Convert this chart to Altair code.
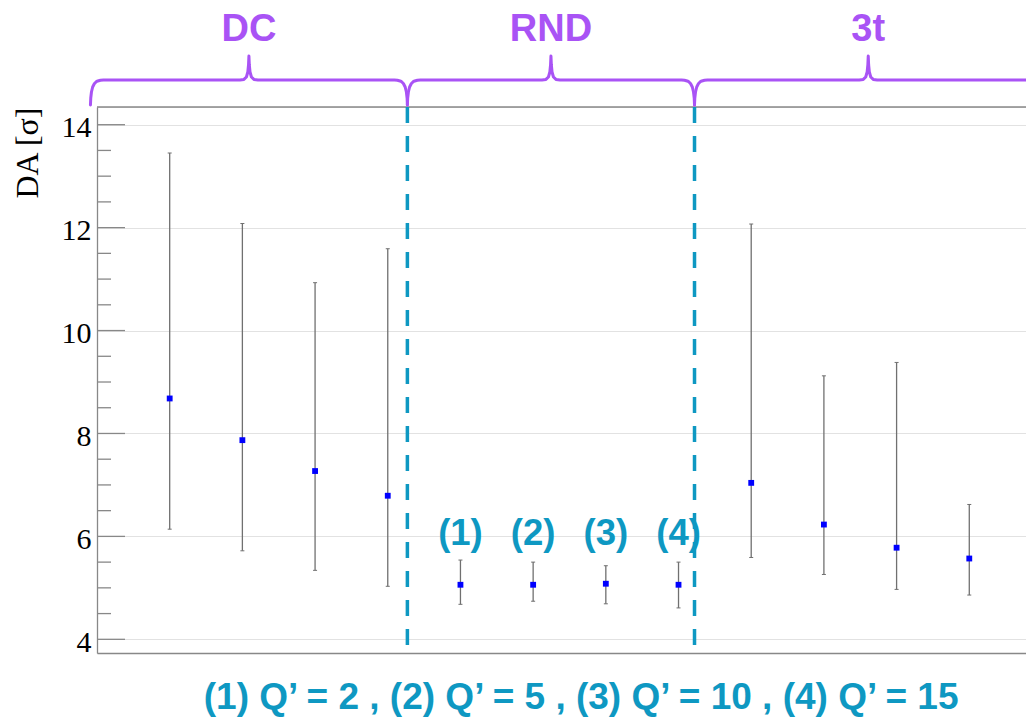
import altair as alt
import pandas as pd

# ---------------- data ----------------
groups = ["DC"] * 4 + ["RND"] * 4 + ["3t"] * 4
xpos = list(range(1, 13))
da = [8.68, 7.87, 7.27, 6.79, 5.06, 5.06, 5.08, 5.06, 7.04, 6.23, 5.78, 5.57]
da_hi = [13.45, 12.08, 10.93, 11.59, 5.54, 5.50, 5.43, 5.50, 12.07, 9.12, 9.38, 6.62]
da_lo = [6.14, 5.72, 5.34, 5.03, 4.68, 4.74, 4.69, 4.61, 5.59, 5.26, 4.97, 4.86]

group_names = ["DC", "RND", "3t"]
group_edges = [-0.09, 4.27, 8.22, 13.0]
separators = [4.27, 8.22]
q_labels = ["(1)", "(2)", "(3)", "(4)"]
q_label_x = [5, 6, 7, 8]
footnote = "(1) Q\u2019 = 2 , (2) Q\u2019 = 5 , (3) Q\u2019 = 10 , (4) Q\u2019 = 15"
y_major = [4, 6, 8, 10, 12, 14]
y_minor = [4.5, 5, 5.5, 6.5, 7, 7.5, 8.5, 9, 9.5, 10.5, 11, 11.5, 12.5, 13, 13.5]

# ---------------- layout / style ----------------
PXX = 72.69               # pixels per x unit
W = 929                   # plot width (chart fits in 1018 px)
H = 546
X0 = 0.0
X1 = W / PXX
Y0, Y1 = 3.734, 14.344
PXY = H / (Y1 - Y0)
PURPLE = "#A953F5"
TEAL = "#0E98C2"
GRAY = "#888888"

xs = alt.Scale(domain=[X0, X1], nice=False, zero=False)
ys = alt.Scale(domain=[Y0, Y1], nice=False, zero=False)

pts = pd.DataFrame({"x": xpos, "da": da, "lo": da_lo, "hi": da_hi, "group": groups})

xaxis = alt.Axis(labels=False, ticks=False, grid=False, title=None, domain=True,
                 domainColor=GRAY, domainWidth=1.3)
yaxis = alt.Axis(
    values=y_major, grid=True, gridColor="#c4c4c4", gridDash=[1, 1], gridWidth=1,
    ticks=False, tickSize=0, domain=True, domainColor=GRAY, domainWidth=1.3,
    labelPadding=6, labelOffset=3,
    labelFont="Liberation Serif", labelFontSize=30, labelColor="#000000",
    title="DA [\u03c3]", titleFont="Liberation Serif", titleFontSize=32,
    titleFontWeight="normal", titleColor="#000000", titleAngle=270,
    titleAlign="right", titleBaseline="middle", titleX=-70, titleY=0,
)


def X(field):
    return alt.X(field, scale=xs, axis=xaxis)


def Y(field):
    return alt.Y(field, scale=ys, axis=yaxis)


# points
points = alt.Chart(pts).mark_square(size=34, color="#0000FF", opacity=1).encode(
    x=X("x:Q"), y=Y("da:Q"),
)

# error bars
ebar = alt.Chart(pts).mark_rule(color="#707070", strokeWidth=1.3).encode(
    x=X("x:Q"), y=Y("lo:Q"), y2="hi:Q",
)
cap_half = 2.0 / PXX
caps_lo = alt.Chart(pts).transform_calculate(
    xl=f"datum.x - {cap_half}", xr=f"datum.x + {cap_half}"
).mark_rule(color="#707070", strokeWidth=1).encode(
    x=X("xl:Q"), x2="xr:Q", y=Y("lo:Q"),
)
caps_hi = alt.Chart(pts).transform_calculate(
    xl=f"datum.x - {cap_half}", xr=f"datum.x + {cap_half}"
).mark_rule(color="#707070", strokeWidth=1).encode(
    x=X("xl:Q"), x2="xr:Q", y=Y("hi:Q"),
)

# inward ticks on the y axis (ROOT style)
ticks_df = pd.DataFrame({
    "y": y_major + y_minor,
    "x0": [0.0] * (len(y_major) + len(y_minor)),
    "x1": [28 / PXX] * len(y_major) + [14 / PXX] * len(y_minor),
})
ticks = alt.Chart(ticks_df).mark_rule(color=GRAY, strokeWidth=1.3).encode(
    x=X("x0:Q"), x2="x1:Q", y=Y("y:Q"),
)

# top frame line
top_df = pd.DataFrame({"x0": [X0], "x1": [X1], "y": [Y1]})
topline = alt.Chart(top_df).mark_rule(color=GRAY, strokeWidth=1.3).encode(
    x=X("x0:Q"), x2="x1:Q", y=Y("y:Q"),
)

# dashed separators
sep_df = pd.DataFrame({"x": separators, "top": [Y1] * len(separators),
                       "bot": [Y0 + 5 / PXY] * len(separators)})
seps = alt.Chart(sep_df).mark_rule(color=TEAL, strokeWidth=3.5, strokeDash=[16, 13]).encode(
    x=X("x:Q"), y=Y("top:Q"), y2="bot:Q",
)

# (1)..(4) labels
ql_df = pd.DataFrame({"x": q_label_x, "t": q_labels, "y": [6.05] * 4})
qlabels = alt.Chart(ql_df).mark_text(
    font="Liberation Sans", fontWeight="bold", fontSize=36.5, color=TEAL, baseline="middle"
).encode(x=X("x:Q"), y=Y("y:Q"), text="t:N")

# footnote
fn_df = pd.DataFrame({"x": [6.66], "y": [2.86], "t": [footnote]})
foot = alt.Chart(fn_df).mark_text(
    font="Liberation Sans", fontWeight="bold", fontSize=37, color=TEAL, baseline="middle"
).encode(x=X("x:Q"), y=Y("y:Q"), text="t:N")

# curly braces above the groups
y_line = Y1 + 27 / PXY
end_shape = [(0, 25), (0.3, 18), (1, 12), (2.2, 7), (4, 3.5), (6.5, 1.2), (10, 0.2), (13, 0)]
tip_shape = [(-9, 0), (-5, -0.6), (-2.5, -3), (-1.1, -8), (-0.4, -15), (0, -24)]
rows = []
for gi, name in enumerate(group_names):
    a, b = group_edges[gi], group_edges[gi + 1]
    c = (a + b) / 2
    path = []
    for dx, dy in end_shape:
        path.append((a + dx / PXX, y_line - dy / PXY))
    for dx, dy in tip_shape:
        path.append((c + dx / PXX, y_line - dy / PXY))
    for dx, dy in reversed(tip_shape[:-1]):
        path.append((c - dx / PXX, y_line - dy / PXY))
    for dx, dy in reversed(end_shape):
        path.append((b - dx / PXX, y_line - dy / PXY))
    for k, (px, py) in enumerate(path):
        rows.append({"g": name, "i": k, "x": px, "y": py})
brace_df = pd.DataFrame(rows)
braces = alt.Chart(brace_df).mark_line(
    color=PURPLE, strokeWidth=3, strokeCap="round", strokeJoin="round", clip=False
).encode(x=X("x:Q"), y=Y("y:Q"), detail="g:N", order="i:Q")

gl_df = pd.DataFrame({
    "x": [(group_edges[i] + group_edges[i + 1]) / 2 for i in range(3)],
    "y": [15.84, 15.84, 15.84],
    "t": group_names,
})
glabels = alt.Chart(gl_df).mark_text(
    font="Liberation Sans", fontWeight="bold", fontSize=38, color=PURPLE, baseline="middle"
).encode(x=X("x:Q"), y=Y("y:Q"), text="t:N")

chart = alt.layer(
    ticks, topline, ebar, caps_lo, caps_hi, points, seps, qlabels, foot, braces, glabels
).properties(
    width=W, height=H,
    autosize=alt.AutoSizeParams(type="none"),
    padding={"left": 89, "top": 99, "right": 0, "bottom": 64},
).configure_view(stroke=None).configure(background="white")

chart.save("out.html", embed_options={"renderer": "svg", "actions": False})
